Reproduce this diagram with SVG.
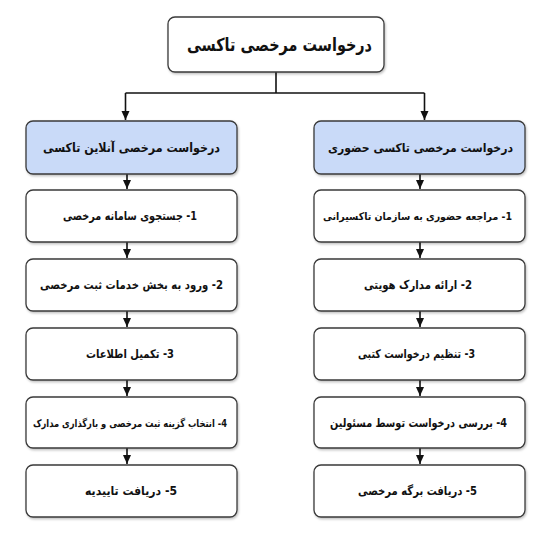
<svg xmlns="http://www.w3.org/2000/svg" width="550" height="550" viewBox="0 0 550 550">
<defs>
<filter id="sh" x="-10%" y="-10%" width="130%" height="140%">
<feDropShadow dx="1" dy="1.5" stdDeviation="1.2" flood-color="#000" flood-opacity="0.25"/>
</filter>
<marker id="ah" markerWidth="10" markerHeight="10" refX="9" refY="5" orient="auto" markerUnits="userSpaceOnUse">
<path d="M0,1 L9,5 L0,9 z" fill="#111"/>
</marker>
</defs>
<style>
.box{fill:#ffffff;stroke:#3a3a3a;stroke-width:1.3;filter:url(#sh)}
.hdr{fill:#c9daf8;stroke:#3a3a3a;stroke-width:1.3;filter:url(#sh)}
text{font-family:"DejaVu Sans",sans-serif;font-weight:bold;fill:#111;text-anchor:middle;dominant-baseline:central;direction:rtl}
.t0{font-size:18px}
.t1{font-size:12.5px}
.t1s{font-size:12px}
.t2{font-size:12px}
.t2s{font-size:10.5px}
.t3{font-size:10.5px}
.ln{stroke:#111;stroke-width:1.6;fill:none}
.ar{stroke:#111;stroke-width:1.6;fill:none;marker-end:url(#ah)}
</style>
<rect width="550" height="550" fill="#ffffff"/>
<g id="connectors">
<path class="ln" d="M276,72 V93"/>
<path class="ln" d="M125.5,93 H424.5"/>
<path class="ar" d="M125.5,93 V120"/>
<path class="ar" d="M424.5,93 V120"/>
<path class="ar" d="M127,174 V189"/>
<path class="ar" d="M127,242 V258"/>
<path class="ar" d="M127,311 V327"/>
<path class="ar" d="M127,380 V396"/>
<path class="ar" d="M127,448 V464"/>
<path class="ar" d="M420,174 V189"/>
<path class="ar" d="M420,242 V258"/>
<path class="ar" d="M420,311 V327"/>
<path class="ar" d="M420,380 V396"/>
<path class="ar" d="M420,448 V464"/>
</g>
<g id="root">
<rect class="box" x="168" y="17" width="216" height="55" rx="7"/>
<text class="t0" x="279.5" y="44.5" textLength="185" lengthAdjust="spacingAndGlyphs">درخواست مرخصی تاکسی</text>
</g>
<g id="online">
<rect class="hdr" x="26" y="121" width="211" height="53" rx="7"/>
<text class="t1" x="131.5" y="147.5" textLength="177" lengthAdjust="spacingAndGlyphs">درخواست مرخصی آنلاین تاکسی</text>
</g>
<g id="inperson">
<rect class="hdr" x="314" y="121" width="211" height="53" rx="7"/>
<text class="t1s" x="420.5" y="147.5" textLength="185" lengthAdjust="spacingAndGlyphs">درخواست مرخصی تاکسی حضوری</text>
</g>
<g id="o1">
<rect class="box" x="26" y="190" width="211" height="52" rx="7"/>
<text class="t2" x="130" y="216" textLength="134" lengthAdjust="spacingAndGlyphs">1- جستجوی سامانه مرخصی</text>
</g>
<g id="o2">
<rect class="box" x="26" y="259" width="211" height="52" rx="7"/>
<text class="t2" x="131.5" y="285" textLength="183" lengthAdjust="spacingAndGlyphs">2- ورود به بخش خدمات ثبت مرخصی</text>
</g>
<g id="o3">
<rect class="box" x="26" y="328" width="211" height="52" rx="7"/>
<text class="t2" x="130" y="354" textLength="88" lengthAdjust="spacingAndGlyphs">3- تکمیل اطلاعات</text>
</g>
<g id="o4">
<rect class="box" x="26" y="397" width="211" height="51" rx="7"/>
<text class="t3" x="130" y="422.5" textLength="194" lengthAdjust="spacingAndGlyphs">4- انتخاب گزینه ثبت مرخصی و بارگذاری مدارک</text>
</g>
<g id="o5">
<rect class="box" x="26" y="465" width="211" height="52" rx="7"/>
<text class="t2" x="131" y="491" textLength="92" lengthAdjust="spacingAndGlyphs">5- دریافت تاییدیه</text>
</g>
<g id="p1">
<rect class="box" x="314" y="190" width="211" height="52" rx="7"/>
<text class="t2s" x="417.5" y="216" textLength="189" lengthAdjust="spacingAndGlyphs">1- مراجعه حضوری به سازمان تاکسیرانی</text>
</g>
<g id="p2">
<rect class="box" x="314" y="259" width="211" height="52" rx="7"/>
<text class="t2" x="418" y="285" textLength="108" lengthAdjust="spacingAndGlyphs">2- ارائه مدارک هویتی</text>
</g>
<g id="p3">
<rect class="box" x="314" y="328" width="211" height="52" rx="7"/>
<text class="t2" x="416.5" y="354" textLength="117" lengthAdjust="spacingAndGlyphs">3- تنظیم درخواست کتبی</text>
</g>
<g id="p4">
<rect class="box" x="314" y="397" width="211" height="51" rx="7"/>
<text class="t2" x="418.5" y="422.5" textLength="177" lengthAdjust="spacingAndGlyphs">4- بررسی درخواست توسط مسئولین</text>
</g>
<g id="p5">
<rect class="box" x="314" y="465" width="211" height="52" rx="7"/>
<text class="t2" x="417.5" y="491" textLength="119" lengthAdjust="spacingAndGlyphs">5- دریافت برگه مرخصی</text>
</g>
</svg>
